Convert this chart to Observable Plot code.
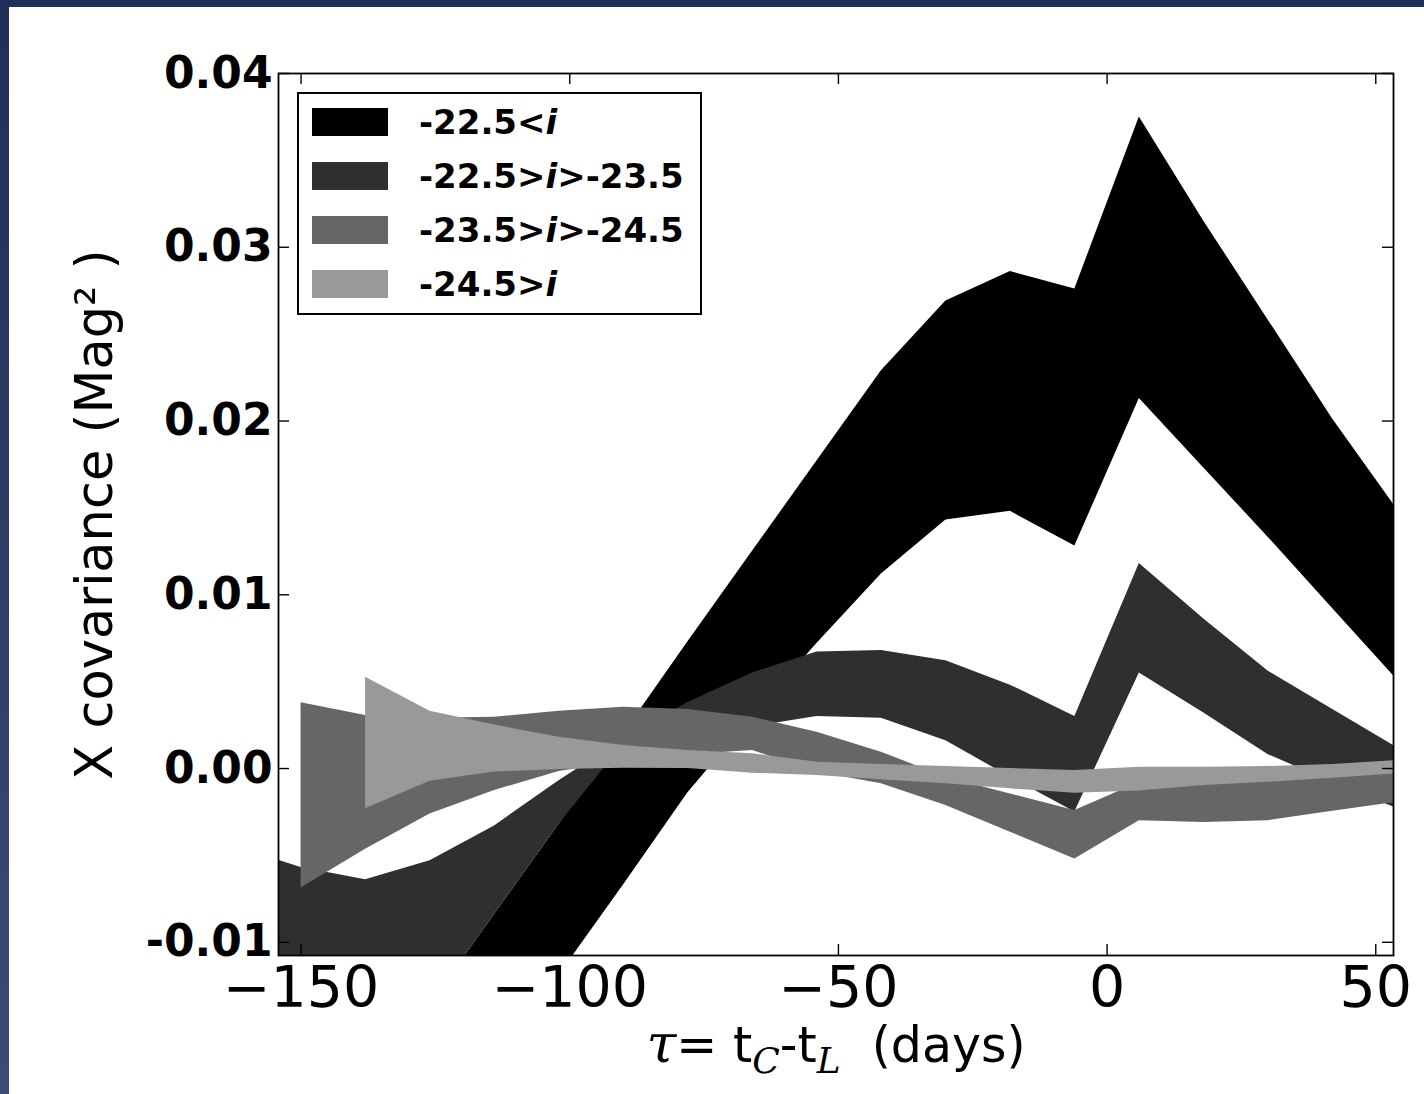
<!DOCTYPE html>
<html>
<head>
<meta charset="utf-8">
<script src="https://cdn.jsdelivr.net/npm/d3@7"></script>
<script src="https://cdn.jsdelivr.net/npm/@observablehq/plot@0.6"></script>
<style>
html, body { margin: 0; padding: 0; }
body { width: 1424px; height: 1094px; position: relative; overflow: hidden;
       background: linear-gradient(to bottom, #212f57, #3d4b72); font-family: "DejaVu Sans", sans-serif; }
#sheet { position: absolute; left: 9px; top: 7px; right: 0; bottom: 0; background: #ffffff; }
#chart { position: absolute; left: 0; top: 0; }
#legend { position: absolute; left: 297px; top: 92px; width: 405px; height: 223px; box-sizing: border-box;
          border: 2px solid #000; background: #fff; }
.row { position: absolute; left: 13px; height: 28px; display: flex; align-items: center; white-space: nowrap; }
.sw { width: 76px; height: 28px; flex: none; }
.lab { margin-left: 31px; font-family: "DejaVu Sans"; font-weight: bold; font-size: 34px; line-height: 28px; color: #000; }
.lab i { font-style: italic; }
</style>
</head>
<body>
<div id="sheet"></div>
<div id="chart"></div>
<div id="legend"></div>
<script>
// ---- data ----
const lags = [-162, -150, -138, -126, -114, -102, -90, -78, -66, -54, -42, -30, -18, -6, 6, 18, 30, 42, 54];

const magBins = ["-22.5<i", "-22.5>i>-23.5", "-23.5>i>-24.5", "-24.5>i"];
const binColors = ["#000000", "#2f2f2f", "#666666", "#999999"];

// -22.5<i
const bin1Upper = [-0.0294, -0.0241, -0.0188, -0.0136, -0.0084, -0.0032, 0.0020, 0.0073, 0.0125, 0.0177, 0.0229, 0.0269, 0.0286, 0.0276, 0.0375, 0.0315, 0.0258, 0.0201, 0.0149];
const bin1Lower = [-0.0383, -0.0330, -0.0277, -0.0225, -0.0172, -0.0119, -0.0067, -0.0014, 0.0030, 0.0072, 0.0112, 0.0143, 0.0148, 0.0128, 0.0213, 0.0173, 0.0133, 0.0092, 0.0051];

// -22.5>i>-23.5
const bin2Upper = [-0.0045, -0.0057, -0.0064, -0.0053, -0.0033, -0.0007, 0.0017, 0.0038, 0.0055, 0.0067, 0.0068, 0.0062, 0.0048, 0.0030, 0.0118, 0.0086, 0.0056, 0.0034, 0.0012];
const bin2Lower = [-0.0290, -0.0240, -0.0188, -0.0136, -0.0084, -0.0032, 0.0014, 0.0018, 0.0024, 0.0030, 0.0029, 0.0016, -0.0005, -0.0025, 0.0055, 0.0032, 0.0008, -0.0008, -0.0023];

// -23.5>i>-24.5
const bin3Upper = [null, 0.00378, 0.00305, 0.0029, 0.00295, 0.0033, 0.00353, 0.0034, 0.00295, 0.00209, 0.00094, -0.0005, -0.00146, -0.00242, -0.0008, -0.0006, -0.0004, -0.0002, 0.0001];
const bin3Lower = [null, -0.00687, -0.00464, -0.00261, -0.00127, -0.00017, 0.0004, 0.0008, 0.00104, -0.0002, -0.00088, -0.00213, -0.00366, -0.0052, -0.0030, -0.0031, -0.0030, -0.00246, -0.00194];

// -24.5>i
const bin4Upper = [null, null, 0.00526, 0.0033, 0.0025, 0.0018, 0.00132, 0.00104, 0.00085, 0.00036, 0.00023, 0.00012, 0.0, -0.00012, 0.00008, 0.00008, 0.00012, 0.00023, 0.00046];
const bin4Lower = [null, null, -0.00232, -0.00073, -0.0002, -0.00006, 0.00002, 0.0, -0.00027, -0.0004, -0.00065, -0.00088, -0.00117, -0.00142, -0.0013, -0.00098, -0.00079, -0.00056, -0.0003];

const xTicks = [-150, -100, -50, 0, 50];
const yTicks = [-0.01, 0.00, 0.01, 0.02, 0.03, 0.04];
const xDomain = [-154.2, 53.3];
const yDomain = [-0.01076, 0.04];

const xLabelText = "τ= tC-tL  (days)";
const yLabelText = "X covariance (Mag² )";

// ---- build ----
const uppers = [bin1Upper, bin2Upper, bin3Upper, bin4Upper];
const lowers = [bin1Lower, bin2Lower, bin3Lower, bin4Lower];
const bands = magBins.map((name, k) =>
  lags.map((x, i) => ({bin: name, x, y1: lowers[k][i], y2: uppers[k][i]}))
      .filter(d => d.y1 != null && d.y2 != null));

const W = 1424, H = 1094;
const mL = 278, mR = 31, mT = 73, mB = 139;
const plotW = W - mL - mR, plotH = H - mT - mB;
const tickLen = 11;
const fmtX = d => d < 0 ? "\u2212" + Math.abs(d) : String(d);

const chart = Plot.plot({
  width: W, height: H,
  marginLeft: mL, marginRight: mR, marginTop: mT, marginBottom: mB,
  style: {background: "transparent", fontFamily: "DejaVu Sans", color: "#000", overflow: "visible"},
  x: {domain: xDomain},
  y: {domain: yDomain},
  marks: [
    ...bands.map((b, k) => Plot.areaY(b, {x: "x", y1: "y1", y2: "y2", fill: binColors[k], clip: true, curve: "linear"})),
    Plot.ruleY(yTicks, {stroke: "#000", strokeWidth: 1.4, insetRight: plotW - tickLen}),
    Plot.ruleY(yTicks, {stroke: "#000", strokeWidth: 1.4, insetLeft: plotW - tickLen}),
    Plot.ruleX(xTicks, {stroke: "#000", strokeWidth: 1.4, insetBottom: plotH - tickLen}),
    Plot.ruleX(xTicks, {stroke: "#000", strokeWidth: 1.4, insetTop: plotH - tickLen}),
    Plot.frame({stroke: "#000", strokeWidth: 1.8}),
    Plot.axisY(yTicks, {tickSize: 0, tickPadding: 6, fontSize: 44, fontWeight: "bold", tickFormat: d => d.toFixed(2), label: null}),
    Plot.axisX(xTicks, {tickSize: 0, tickPadding: 11, fontSize: 57, tickFormat: fmtX, label: null}),
    Plot.text([yLabelText], {text: d => d, frameAnchor: "left", rotate: -90, fontSize: 51, fill: "#000"}),
    Plot.text([xLabelText], {text: d => d, frameAnchor: "bottom", dy: 106, fontSize: 49, fill: "#000"})
  ]
});
document.getElementById("chart").appendChild(chart);

chart.querySelectorAll("text").forEach(t => {
  if (t.textContent === xLabelText) {
    // rich text for the x label (italic tau, subscripts)
    t.setAttribute("style", "white-space: pre");
    t.innerHTML =
      '<tspan font-style="italic" font-family="DejaVu Serif" font-size="54">τ</tspan><tspan>= t</tspan>' +
      '<tspan font-style="italic" font-family="DejaVu Serif" font-size="36" dy="11">C</tspan>' +
      '<tspan dy="-11">-t</tspan>' +
      '<tspan font-style="italic" font-family="DejaVu Serif" font-size="36" dy="11">L</tspan>' +
      '<tspan dy="-11">  (days)</tspan>';
  } else if (t.textContent === yLabelText) {
    // place the rotated y label left of the tick labels, centred on the frame
    ["x", "y", "dx", "dy"].forEach(a => t.removeAttribute(a));
    t.setAttribute("text-anchor", "middle");
    t.setAttribute("dy", "0.36em");
    t.setAttribute("transform", `translate(93,${mT + plotH / 2}) rotate(-90)`);
  }
});

// legend
const legend = d3.select("#legend");
magBins.forEach((name, k) => {
  const row = legend.append("div").attr("class", "row").style("top", (14 + 54 * k) + "px");
  row.append("div").attr("class", "sw").style("background", binColors[k]);
  row.append("div").attr("class", "lab").html(name.replace("i", "<i>i</i>"));
});
</script>
</body>
</html>
